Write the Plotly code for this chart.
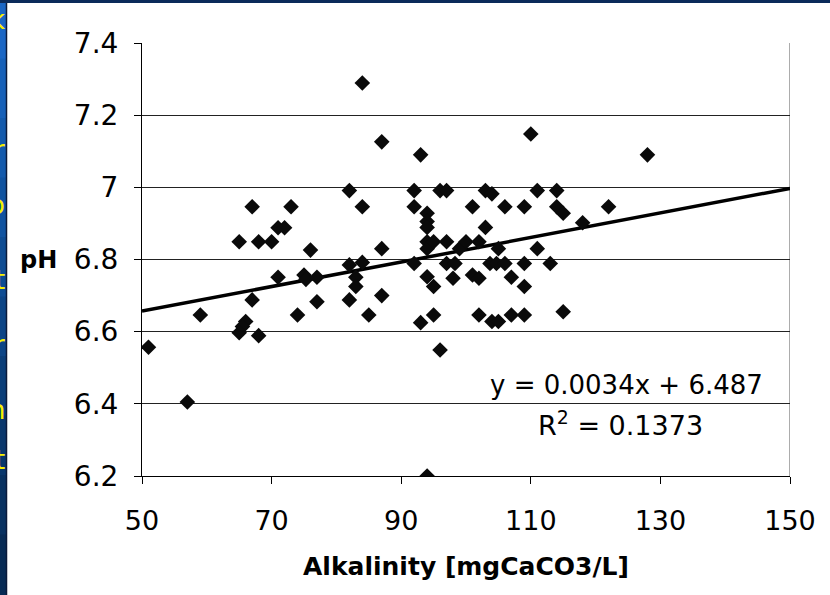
import plotly.graph_objects as go

alkalinity = [51, 57, 59, 65, 67, 68, 70, 71, 72, 73, 71, 75, 75.3, 76, 77, 67, 77, 74, 66, 65.5,
              65, 68, 82, 84, 84, 87, 87, 82, 84, 83, 83, 82, 87, 85, 92, 92, 93, 92, 93, 94,
              94, 94, 94, 94, 95, 94, 95, 95, 94, 96, 96, 97, 97, 97, 98.3, 98, 99, 100, 101, 101,
              102, 102, 102, 103, 104, 103, 103.7, 104.7, 106, 105, 104, 105, 106, 107, 107, 109, 109, 109, 109, 110,
              111, 111, 113, 114, 114, 115, 115, 118, 122, 128]
ph = [6.557, 6.405, 6.646, 6.849, 6.946, 6.849, 6.849, 6.888, 6.888, 6.946, 6.751, 6.757, 6.745, 6.826, 6.751, 6.688, 6.683, 6.646, 6.628, 6.614,
      6.597, 6.589, 6.991, 6.946, 7.289, 7.126, 6.830, 6.785, 6.792, 6.751, 6.725, 6.688, 6.700, 6.646, 6.991, 6.946, 7.090, 6.789, 6.625, 6.928,
      6.905, 6.889, 6.849, 6.830, 6.849, 6.752, 6.725, 6.646, 6.200, 6.549, 6.991, 6.991, 6.849, 6.789, 6.789, 6.748, 6.830, 6.849, 6.946, 6.757,
      6.849, 6.748, 6.646, 6.991, 6.982, 6.889, 6.789, 6.789, 6.789, 6.830, 6.628, 6.628, 6.946, 6.751, 6.646, 6.946, 6.789, 6.725, 6.646, 7.148,
      6.991, 6.830, 6.789, 6.991, 6.946, 6.928, 6.655, 6.902, 6.946, 7.090]

trend_slope = 0.0034
trend_intercept = 6.487
trend_x = [50, 150]
x_ticks = [50, 70, 90, 110, 130, 150]
y_ticks = [6.2, 6.4, 6.6, 6.8, 7.0, 7.2, 7.4]
y_tick_labels = ["6.2", "6.4", "6.6", "6.8", "7", "7.2", "7.4"]
slide_letters = ["k", "r", "o", "t", "r", "n", "t"]
slide_letter_y = [20, 150, 205, 280, 345, 410, 460]
strip_colors = ["#1a66c4", "#1660b8", "#135aac", "#1053a0", "#0e4c93", "#0c4586", "#0a3e79", "#09376c", "#083160", "#072b55"]

FONT = "DejaVu Sans"
W, H = 830, 595
L, R, T, B = 142, 40, 43, 119
PW, PH = W - L - R, H - T - B


def px_x(px):
    return (px - L) / PW


def px_y(py):
    return (H - B - py) / PH


fig = go.Figure()
fig.add_trace(go.Scatter(
    x=trend_x, y=[trend_slope * v + trend_intercept for v in trend_x],
    mode="lines", line=dict(color="black", width=3.5), hoverinfo="skip", showlegend=False))
fig.add_trace(go.Scatter(
    x=alkalinity, y=ph, mode="markers",
    marker=dict(symbol="diamond", size=12, color="#0a0a0a", line=dict(width=0)),
    showlegend=False))

shapes = []
n = len(strip_colors)
for i, c in enumerate(strip_colors):
    shapes.append(dict(type="rect", xref="paper", yref="paper",
                       x0=px_x(0), x1=px_x(8), y0=px_y(H * (i + 1) / n + 1), y1=px_y(H * i / n - 1),
                       fillcolor=c, line=dict(width=0), layer="below"))
shapes += [
    dict(type="rect", xref="paper", yref="paper",
         x0=px_x(0), x1=px_x(W), y0=px_y(3), y1=px_y(-2),
         fillcolor="#0a2a5a", line=dict(width=0), layer="below"),
    dict(type="rect", xref="paper", yref="paper",
         x0=px_x(7), x1=px_x(W + 2), y0=px_y(H + 2), y1=px_y(3),
         fillcolor="white", line=dict(width=0), layer="below"),
    dict(type="line", xref="paper", yref="paper",
         x0=px_x(6.5), x1=px_x(6.5), y0=px_y(H + 2), y1=px_y(3),
         line=dict(color="#0a1a3a", width=1.5), layer="below"),
    dict(type="line", xref="x", yref="y", x0=150, x1=150, y0=6.2, y1=7.4,
         line=dict(color="#909090", width=1.5), layer="below"),
]

annotations = [
    dict(x=124.8, y=6.452, xref="x", yref="y", text="y = 0.0034x + 6.487", showarrow=False,
         xanchor="center", font=dict(family=FONT, size=26, color="black")),
    dict(x=123.9, y=6.345, xref="x", yref="y", text="R<sup>2</sup> = 0.1373", showarrow=False,
         xanchor="center", font=dict(family=FONT, size=27, color="black")),
    dict(x=px_x(39), y=6.8, xref="paper", yref="y", text="<b>pH</b>", showarrow=False,
         xanchor="center", yanchor="middle", font=dict(family=FONT, size=24, color="black")),
]
for ch, py in zip(slide_letters, slide_letter_y):
    annotations.append(dict(
        x=px_x(7), y=px_y(py), xref="paper", yref="paper",
        text=ch, showarrow=False, xanchor="right", yanchor="middle",
        font=dict(family=FONT, size=26, color="#f5f000")))

fig.update_layout(
    width=W, height=H, autosize=False,
    margin=dict(l=L, r=R, t=T, b=B),
    paper_bgcolor="#0d4f9e", plot_bgcolor="white",
    shapes=shapes, annotations=annotations,
    xaxis=dict(range=[50, 150], tickvals=x_ticks, ticks="outside", ticklen=7, tickcolor="black",
               showline=True, linecolor="black", linewidth=1, showgrid=False, zeroline=False,
               ticklabelstandoff=14,
               tickfont=dict(family=FONT, size=27, color="black"),
               title=dict(text="<b>Alkalinity [mgCaCO3/L]</b>", font=dict(family=FONT, size=25, color="black"),
                          standoff=22)),
    yaxis=dict(range=[6.2, 7.4], tickvals=y_ticks, ticktext=y_tick_labels, ticks="outside", ticklen=7,
               tickcolor="black", showline=True, linecolor="black", linewidth=1,
               ticklabelstandoff=10,
               showgrid=True, gridcolor="#222222", gridwidth=1, zeroline=False,
               tickfont=dict(family=FONT, size=28, color="black")),
)

fig.write_html("out.html", config={"displayModeBar": False},
               post_script="document.body.style.margin='0';document.body.style.padding='0';document.body.style.overflow='hidden';")
